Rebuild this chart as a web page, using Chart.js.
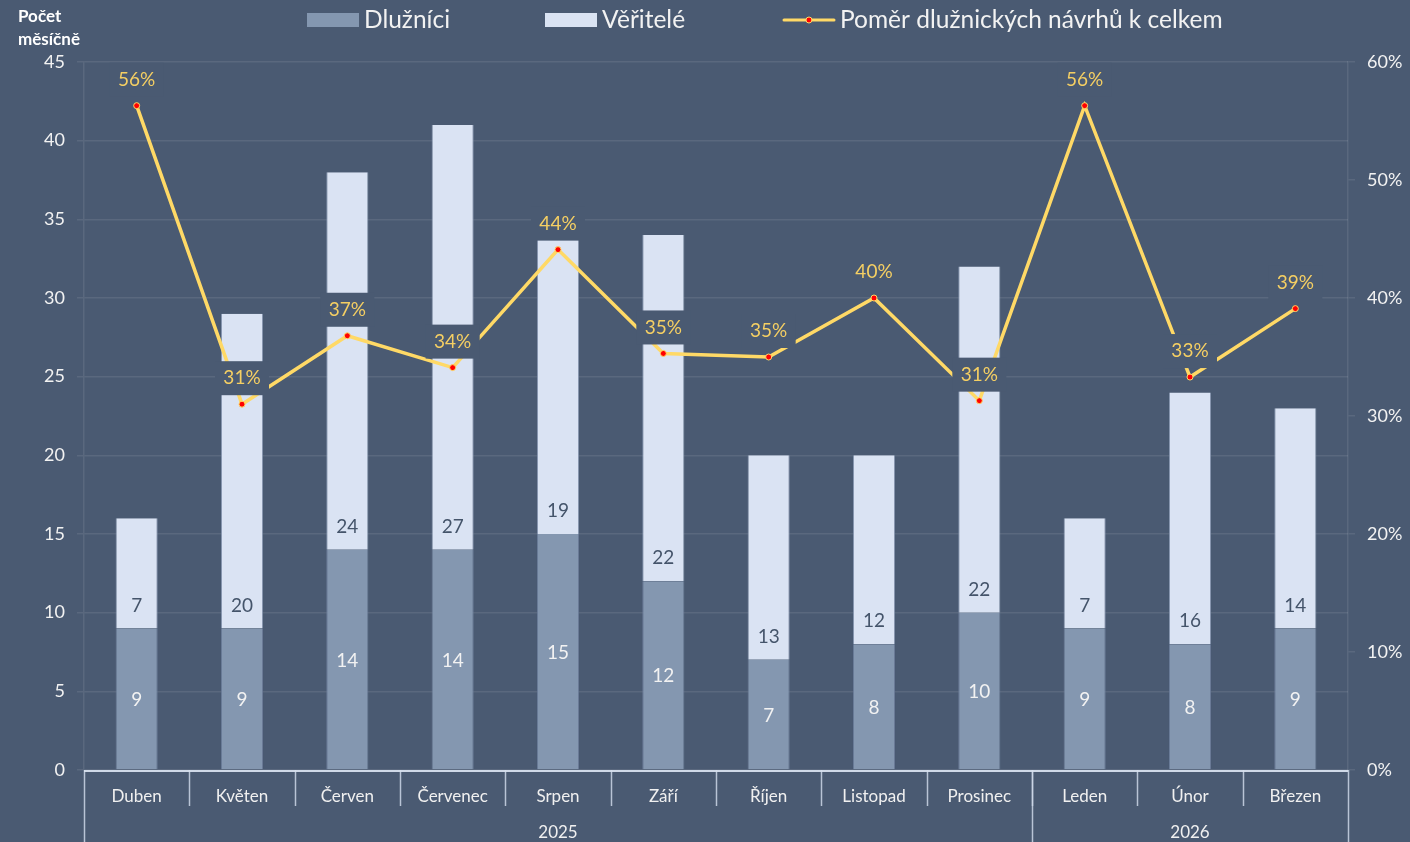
<!DOCTYPE html>
<html><head><meta charset="utf-8">
<script src="https://cdn.jsdelivr.net/npm/chart.js@4/dist/chart.umd.min.js"></script>
<style>html,body{margin:0;padding:0;background:#4a5a72;overflow:hidden}#wrap{width:1410px;height:842px;position:relative}</style>
</head><body><div id="wrap"><canvas id="c"></canvas></div>
<script>
const months = ['Duben','Květen','Červen','Červenec','Srpen','Září','Říjen','Listopad','Prosinec','Leden','Únor','Březen'];
const years = ['2025','2026'];
const monthsPerYear = [9,3];
const dluznici = [9,9,14,14,15,12,7,8,10,9,8,9];
const veritele = [7,20,24,27,19,22,13,12,22,7,16,14];
const pomer = [56.3,31.0,36.8,34.1,44.1,35.3,35.0,40.0,31.3,56.3,33.3,39.1];
const leftTickMax = 45, leftTickStep = 5;
const rightTickMax = 60, rightTickStep = 10;
const seriesNames = ['Dlužníci','Věřitelé','Poměr dlužnických návrhů k celkem'];
const axisTitle = ['Počet','měsíčně'];

const FONT = 'Lato, "Open Sans", sans-serif';
const BG = '#4a5a72';
const C_DL = '#8497b0', C_VE = '#dae3f3', C_LINE = '#ffd966', C_PCT = '#f5cf63';
const GRID = 'rgba(255,255,255,0.09)';

const overlay = {
  id:'overlay',
  beforeDraw(chart){
    const ctx = chart.ctx; ctx.save(); ctx.fillStyle = BG; ctx.fillRect(0,0,chart.width,chart.height); ctx.restore();
  },
  afterDatasetsDraw(chart){
    const ctx = chart.ctx; ctx.save();
    ctx.textAlign='center'; ctx.textBaseline='middle';
    ctx.font = '19px '+FONT;
    const m0 = chart.getDatasetMeta(0), m1 = chart.getDatasetMeta(1), m2 = chart.getDatasetMeta(2);
    m0.data.forEach((b,i)=>{ ctx.fillStyle='#f2f2f2'; ctx.fillText(String(dluznici[i]), b.x, (b.y+b.base)/2+1); });
    m1.data.forEach((b,i)=>{ ctx.fillStyle='#44546a'; ctx.fillText(String(veritele[i]), b.x, b.base-23); });
    m2.data.forEach((p,i)=>{
      const y = p.y-26;
      ctx.fillStyle=BG; ctx.fillRect(p.x-27, y-17, 54, 34);
      ctx.fillStyle=C_PCT; ctx.fillText(Math.round(pomer[i])+'%', p.x, y);
    });
    ctx.restore();
  },
  afterDraw(chart){
    const ctx = chart.ctx, xs = chart.scales.x, ca = chart.chartArea;
    ctx.save();
    const n = months.length, w = (xs.right-xs.left)/n;
    const bottom = ca.bottom;
    ctx.strokeStyle='rgba(205,215,232,0.85)'; ctx.lineWidth=1.5;
    for(let i=1;i<n;i++){
      const xx = Math.round(xs.getPixelForValue(i)-w/2)+0.5;
      ctx.beginPath(); ctx.moveTo(xx,bottom); ctx.lineTo(xx,bottom+36); ctx.stroke();
    }
    let idx=0;
    const bounds=[0];
    monthsPerYear.forEach(c=>{idx+=c;bounds.push(idx);});
    bounds.forEach(b=>{
      const xx = Math.round(xs.getPixelForValue(b)-w/2)+0.5;
      ctx.beginPath(); ctx.moveTo(xx,bottom); ctx.lineTo(xx,chart.height); ctx.stroke();
    });
    ctx.font='17px '+FONT; ctx.fillStyle='#f0f0f0'; ctx.textAlign='center'; ctx.textBaseline='middle';
    years.forEach((yv,k)=>{
      const a = xs.getPixelForValue(bounds[k])-w/2, b = xs.getPixelForValue(bounds[k+1])-w/2;
      ctx.fillText(yv,(a+b)/2,bottom+63);
    });
    ctx.strokeStyle='rgba(215,224,238,0.95)'; ctx.lineWidth=2;
    ctx.beginPath(); ctx.moveTo(xs.left,bottom+1); ctx.lineTo(xs.right,bottom+1); ctx.stroke();
    ctx.font='bold 17px '+FONT; ctx.fillStyle='#ffffff'; ctx.textAlign='left';
    ctx.fillText(axisTitle[0],18,17); ctx.fillText(axisTitle[1],18,40);
    const starts=[307,545,783], ly=20;
    ctx.font='24.5px '+FONT; ctx.textBaseline='middle';
    seriesNames.forEach((nm,k)=>{
      const x0=starts[k];
      if(k<2){ ctx.fillStyle=k===0?C_DL:C_VE; ctx.fillRect(x0,ly-7,52,14); }
      else{
        ctx.strokeStyle=C_LINE; ctx.lineWidth=3; ctx.lineCap='round';
        ctx.beginPath(); ctx.moveTo(x0+1,ly); ctx.lineTo(x0+51,ly); ctx.stroke();
        ctx.fillStyle='#ff0000'; ctx.strokeStyle=C_LINE; ctx.lineWidth=1;
        ctx.beginPath(); ctx.arc(x0+26,ly,3,0,Math.PI*2); ctx.fill(); ctx.stroke();
      }
      ctx.fillStyle='#f2f2f2'; ctx.fillText(nm,x0+57,ly);
    });
    ctx.restore();
  }
};

new Chart(document.getElementById('c'),{
  data:{
    labels:months,
    datasets:[
      {type:'bar',label:seriesNames[0],data:dluznici,backgroundColor:C_DL,borderColor:'rgba(110,128,155,0.9)',borderWidth:{left:1,right:1,top:0,bottom:0},borderSkipped:false,yAxisID:'y',stack:'s',order:1,barPercentage:0.4,categoryPercentage:1},
      {type:'bar',label:seriesNames[1],data:veritele,backgroundColor:C_VE,borderColor:'rgba(140,155,180,0.9)',borderWidth:{left:1,right:1,top:0,bottom:0},borderSkipped:false,yAxisID:'y',stack:'s',order:1,barPercentage:0.4,categoryPercentage:1},
      {type:'line',label:seriesNames[2],data:pomer,yAxisID:'y1',order:0,borderColor:C_LINE,borderWidth:3.5,pointRadius:3,pointBackgroundColor:'#ff0000',pointBorderColor:C_LINE,pointBorderWidth:1,tension:0}
    ]
  },
  options:{
    responsive:true,maintainAspectRatio:false,animation:false,
    layout:{padding:{top:62,left:0,right:0,bottom:0}},
    plugins:{legend:{display:false},tooltip:{enabled:false}},
    scales:{
      x:{stacked:true,offset:true,grid:{display:false},border:{display:false},
         ticks:{color:'#f0f0f0',font:{family:FONT,size:17},padding:8,maxRotation:0,autoSkip:false},
         afterFit(s){s.height=72;}},
      y:{position:'left',stacked:true,min:0,max:leftTickMax,
         ticks:{stepSize:leftTickStep,color:'#f2f2f2',font:{family:FONT,size:18},padding:12},
         grid:{color:GRID,tickLength:7,lineWidth:1.5},border:{color:GRID,width:1.5},
         afterFit(s){s.width=84;}},
      y1:{position:'right',min:0,max:rightTickMax,
         ticks:{stepSize:rightTickStep,color:'#f2f2f2',font:{family:FONT,size:18},padding:12,callback:v=>v+'%'},
         grid:{drawOnChartArea:false,color:GRID,tickLength:7,lineWidth:1.5},border:{color:GRID,width:1.5},
         afterFit(s){s.width=62;}}
    }
  },
  plugins:[overlay]
});
</script></body></html>
